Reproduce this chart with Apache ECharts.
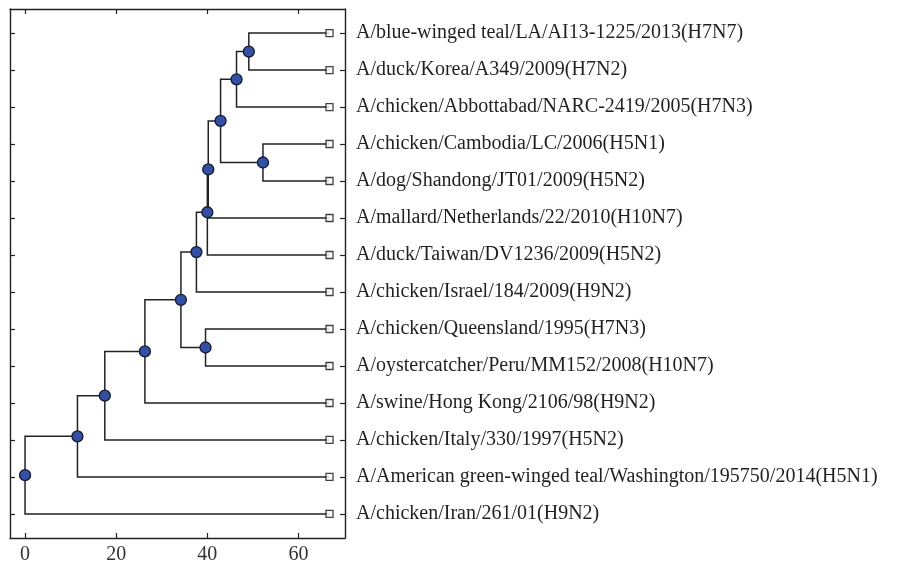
<!DOCTYPE html>
<html>
<head>
<meta charset="utf-8">
<script src="https://cdn.jsdelivr.net/npm/echarts@6/dist/echarts.min.js"></script>
<style>
html,body{margin:0;padding:0;background:#fff;}
#chart{width:914px;height:565px;}
</style>
</head>
<body>
<div id="chart"></div>
<script>
// Leaf names, top to bottom (y = 1..14)
const leafNames = [
  "A/blue-winged teal/LA/AI13-1225/2013(H7N7)",
  "A/duck/Korea/A349/2009(H7N2)",
  "A/chicken/Abbottabad/NARC-2419/2005(H7N3)",
  "A/chicken/Cambodia/LC/2006(H5N1)",
  "A/dog/Shandong/JT01/2009(H5N2)",
  "A/mallard/Netherlands/22/2010(H10N7)",
  "A/duck/Taiwan/DV1236/2009(H5N2)",
  "A/chicken/Israel/184/2009(H9N2)",
  "A/chicken/Queensland/1995(H7N3)",
  "A/oystercatcher/Peru/MM152/2008(H10N7)",
  "A/swine/Hong Kong/2106/98(H9N2)",
  "A/chicken/Italy/330/1997(H5N2)",
  "A/American green-winged teal/Washington/195750/2014(H5N1)",
  "A/chicken/Iran/261/01(H9N2)"
];
// Leaf height (x position of leaf tips)
const leafHeight = 66.8;
// Internal nodes: children ("L#" leaf, "N#" node) and merge height
const nodeLeft   = ["L0","N0","L3","N1","N3","N4","N5","L8","N6","N8","N9","N10","N11"];
const nodeRight  = ["L1","L2","L4","N2","L5","L6","L7","L9","N7","L10","L11","L12","L13"];
const nodeHeight = [49.1, 46.4, 52.2, 42.9, 40.2, 40.0, 37.6, 39.6, 34.2, 26.3, 17.5, 11.5, 0];
// Axis ticks
const xTicks = [0, 20, 40, 60];
const yTicks = leafNames.map((_, i) => i + 1);

// Build positions from the tree structure
const pos = {};
leafNames.forEach((n, i) => { pos["L" + i] = [leafHeight, i + 1]; });
nodeHeight.forEach((h, i) => {
  const a = pos[nodeLeft[i]], b = pos[nodeRight[i]];
  pos["N" + i] = [h, (a[1] + b[1]) / 2];
});
const edges = nodeHeight.map((h, i) => {
  const a = pos[nodeLeft[i]], b = pos[nodeRight[i]];
  return { coords: [[a[0], a[1]], [h, a[1]], [h, b[1]], [b[0], b[1]]] };
});
const nodePoints = nodeHeight.map((h, i) => pos["N" + i]);
const leafPoints = leafNames.map((n, i) => pos["L" + i]);

const lineCol = '#222222';
const font = 'Liberation Serif';

const chart = echarts.init(document.getElementById('chart'));
chart.setOption({
  animation: false,
  grid: { left: 10, right: 569, top: 9, bottom: 27, show: false },
  xAxis: [{
    type: 'value', min: -3.3, max: 70.2, position: 'bottom',
    axisLine: { show: true, onZero: false, lineStyle: { color: lineCol, width: 1.4 } },
    axisTick: { show: true, inside: true, length: 5, customValues: xTicks, lineStyle: { color: lineCol, width: 1.2 } },
    axisLabel: { customValues: xTicks, color: '#333', fontFamily: font, fontSize: 20, margin: 7 },
    splitLine: { show: false }
  }, {
    type: 'value', min: -3.3, max: 70.2, position: 'top',
    axisLine: { show: true, onZero: false, lineStyle: { color: lineCol, width: 1.4 } },
    axisTick: { show: true, inside: true, length: 5, customValues: xTicks, lineStyle: { color: lineCol, width: 1.2 } },
    axisLabel: { show: false },
    splitLine: { show: false }
  }],
  yAxis: [{
    type: 'value', min: 0.35, max: 14.65, inverse: true, position: 'left',
    axisLine: { show: true, onZero: false, lineStyle: { color: lineCol, width: 1.4 } },
    axisTick: { show: true, inside: true, length: 5, customValues: yTicks, lineStyle: { color: lineCol, width: 1.2 } },
    axisLabel: { show: false },
    splitLine: { show: false }
  }, {
    type: 'value', min: 0.35, max: 14.65, inverse: true, position: 'right',
    axisLine: { show: true, onZero: false, lineStyle: { color: lineCol, width: 1.4 } },
    axisTick: { show: true, inside: true, length: 5, customValues: yTicks, lineStyle: { color: lineCol, width: 1.2 } },
    axisLabel: {
      customValues: yTicks, margin: 11, color: '#231f20', fontFamily: font, fontSize: 20,
      formatter: v => leafNames[Math.round(v) - 1] || ''
    },
    splitLine: { show: false }
  }],
  series: [{
    type: 'lines', coordinateSystem: 'cartesian2d', polyline: true,
    xAxisIndex: 0, yAxisIndex: 0,
    data: edges,
    lineStyle: { color: lineCol, width: 1.5, opacity: 1 },
    silent: true, z: 2
  }, {
    type: 'scatter', xAxisIndex: 0, yAxisIndex: 0,
    data: leafPoints, symbol: 'rect', symbolSize: 7,
    itemStyle: { color: '#ffffff', borderColor: '#111', borderWidth: 1.3 },
    z: 3
  }, {
    type: 'scatter', xAxisIndex: 0, yAxisIndex: 0,
    data: nodePoints, symbol: 'circle', symbolSize: 11,
    itemStyle: { color: '#3450a4', borderColor: '#151a30', borderWidth: 1.3, opacity: 1 },
    z: 4
  }]
});
</script>
</body>
</html>
